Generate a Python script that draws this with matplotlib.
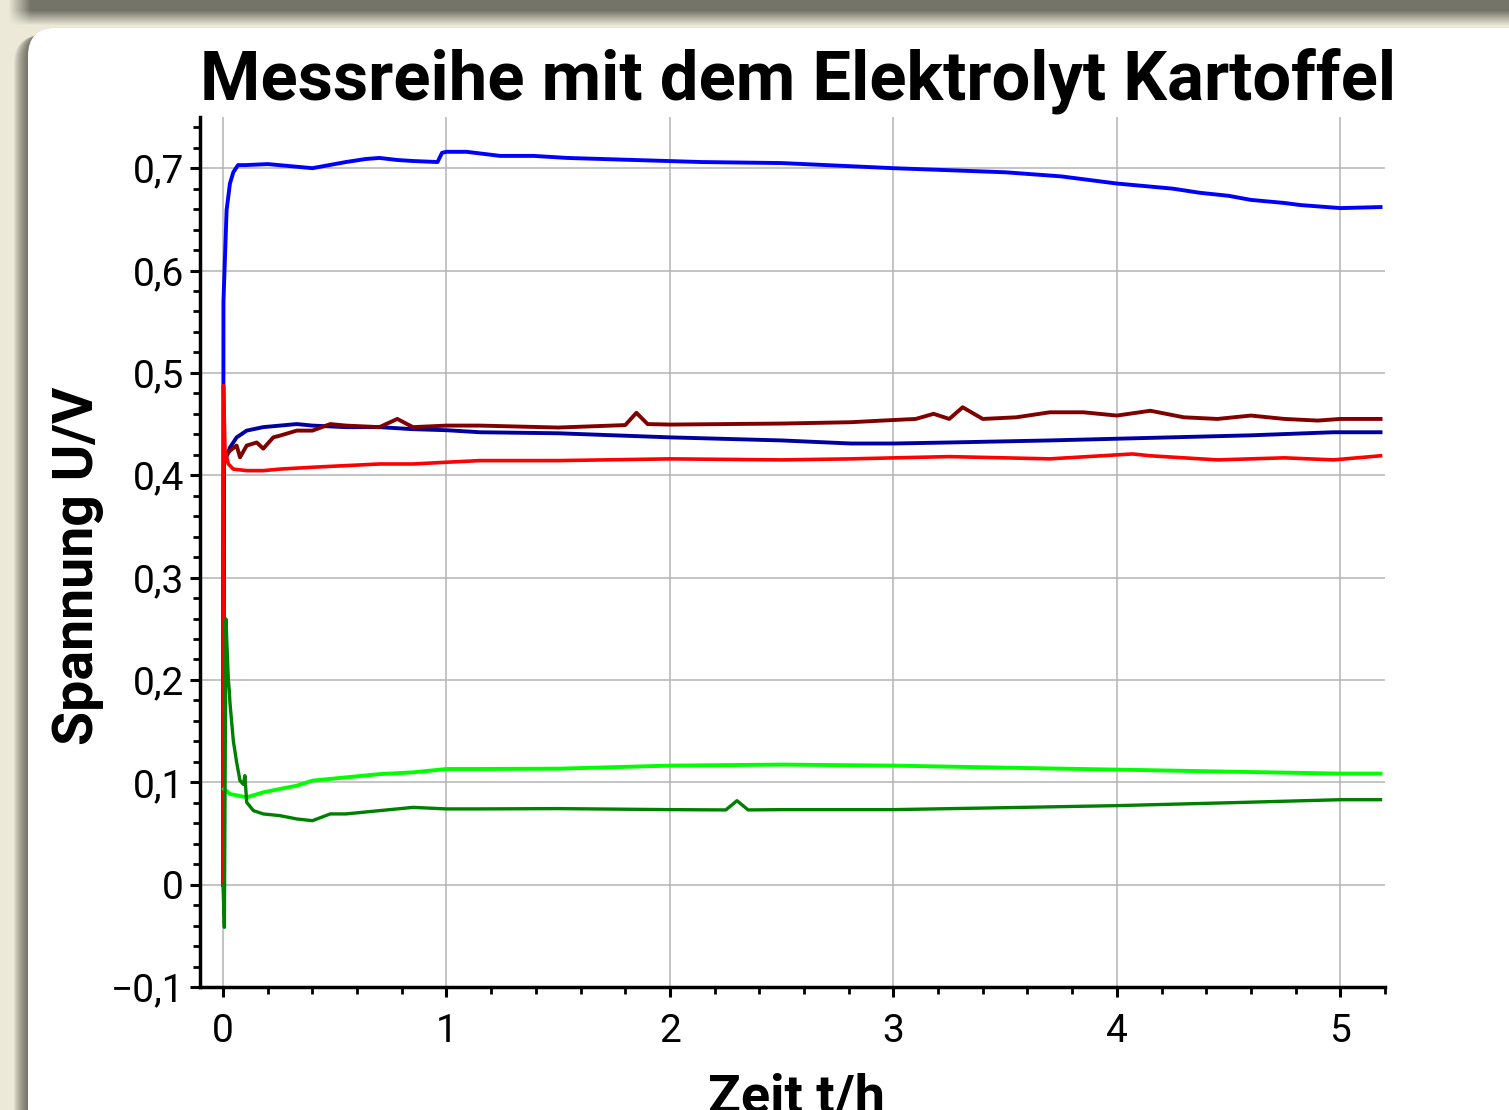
import numpy as np
import matplotlib.pyplot as plt
from matplotlib.patches import FancyBboxPatch
from matplotlib.ticker import MultipleLocator, FuncFormatter

t_blau = [0, 0.002, 0.016, 0.031, 0.046, 0.067, 0.1, 0.2, 0.3, 0.4, 0.5, 0.55, 0.64, 0.70,
          0.78, 0.85, 0.96, 0.98, 1.0, 1.09, 1.24, 1.39, 1.54, 1.69, 1.84, 1.99, 2.14, 2.5,
          3.0, 3.5, 3.75, 4.0, 4.25, 4.37, 4.5, 4.6, 4.75, 4.82, 5.0, 5.18]
u_blau = [0, 0.57, 0.659, 0.685, 0.696, 0.703, 0.703, 0.704, 0.702, 0.700, 0.704, 0.706, 0.709, 0.710,
          0.708, 0.707, 0.706, 0.715, 0.716, 0.716, 0.712, 0.712, 0.710, 0.709, 0.708, 0.707, 0.706, 0.705,
          0.700, 0.696, 0.692, 0.685, 0.680, 0.676, 0.673, 0.669, 0.666, 0.664, 0.661, 0.662]

t_navy = [0, 0.004, 0.009, 0.031, 0.061, 0.106, 0.18, 0.255, 0.33, 0.40, 0.55, 0.70, 0.85,
          1.0, 1.15, 1.5, 2.0, 2.5, 2.81, 3.0, 3.25, 3.70, 4.15, 4.6, 4.97, 5.18]
u_navy = [0, 0.41, 0.414, 0.427, 0.437, 0.4436, 0.447, 0.4485, 0.450, 0.4485, 0.447, 0.447, 0.445,
          0.444, 0.442, 0.441, 0.437, 0.434, 0.431, 0.431, 0.432, 0.434, 0.4365, 0.439, 0.442, 0.442]

t_dunkelrot = [0, 0.004, 0.008, 0.031, 0.061, 0.076, 0.106, 0.151, 0.18, 0.225, 0.255, 0.33, 0.40,
               0.48, 0.55, 0.70, 0.78, 0.85, 1.0, 1.15, 1.5, 1.8, 1.85, 1.9, 2.0, 2.5, 2.81, 2.95,
               3.1, 3.18, 3.25, 3.31, 3.40, 3.55, 3.70, 3.85, 4.0, 4.15, 4.30, 4.45, 4.6, 4.75,
               4.9, 5.0, 5.18]
u_dunkelrot = [0, 0.415, 0.4175, 0.424, 0.429, 0.4175, 0.429, 0.432, 0.426, 0.437, 0.4387, 0.4436, 0.4436,
               0.450, 0.4485, 0.447, 0.455, 0.447, 0.4485, 0.4485, 0.4466, 0.449, 0.461, 0.450, 0.4495, 0.4505, 0.4518, 0.4534,
               0.455, 0.460, 0.455, 0.4664, 0.455, 0.4566, 0.4615, 0.4615, 0.4583, 0.463, 0.4566, 0.455, 0.4583, 0.455,
               0.4534, 0.455, 0.455]

t_rot = [0, 0.002, 0.009, 0.024, 0.046, 0.106, 0.18, 0.255, 0.40, 0.55, 0.70, 0.85, 1.0, 1.15,
         1.5, 2.0, 2.5, 2.81, 3.25, 3.70, 4.07, 4.15, 4.45, 4.6, 4.75, 4.97, 5.18]
u_rot = [0, 0.4876, 0.424, 0.411, 0.406, 0.4045, 0.4045, 0.406, 0.4078, 0.4094, 0.411, 0.411, 0.4127, 0.4143,
         0.4143, 0.416, 0.415, 0.416, 0.4182, 0.416, 0.4208, 0.419, 0.415, 0.416, 0.417, 0.415, 0.419]

t_hellgruen = [0.005, 0.031, 0.106, 0.18, 0.255, 0.33, 0.40, 0.55, 0.70, 0.85, 1.0, 1.15, 1.5,
               2.0, 2.5, 3.0, 3.5, 4.0, 4.5, 5.0, 5.18]
u_hellgruen = [0.0935, 0.0886, 0.0853, 0.0902, 0.0935, 0.0967, 0.1016, 0.1048, 0.108, 0.1097, 0.113, 0.113, 0.1133,
               0.1163, 0.1173, 0.1163, 0.1143, 0.1124, 0.1104, 0.1085, 0.1085]

t_gruen = [0, 0.006, 0.013, 0.024, 0.028, 0.031, 0.046, 0.061, 0.076, 0.091, 0.098, 0.106, 0.136,
           0.18, 0.255, 0.33, 0.40, 0.48, 0.55, 0.70, 0.85, 1.0, 1.15, 1.5, 2.0, 2.25, 2.3, 2.35,
           2.5, 3.0, 3.5, 4.0, 4.5, 5.0, 5.18]
u_gruen = [0, -0.0417, 0.2596, 0.1993, 0.19, 0.178, 0.1407, 0.1195, 0.1016, 0.098, 0.1065, 0.0804, 0.0723,
           0.0691, 0.0674, 0.0642, 0.0625, 0.0691, 0.0691, 0.0723, 0.0755, 0.074, 0.074, 0.0743, 0.0733, 0.073, 0.082, 0.073,
           0.0733, 0.0733, 0.0752, 0.0772, 0.080, 0.083, 0.083]

W, H = 1509, 1110
fig = plt.figure(figsize=(W / 100, H / 100), dpi=100, facecolor='#ece9d8')

# Hintergrund: Fensterrahmen mit Schatten (in Pixelkoordinaten)
bg = fig.add_axes([0, 0, 1, 1])
bg.set_xlim(0, W)
bg.set_ylim(H, 0)
bg.axis('off')

band = np.zeros((30, W, 4))
band[..., :3] = np.array([0x74, 0x74, 0x68]) / 255
ay = np.clip((25 - np.arange(30)) / 15, 0, 1)
ax_ = np.clip((np.arange(W) - 8) / 22, 0, 1)
band[..., 3] = ay[:, None] * ax_[None, :]
bg.imshow(band, extent=[0, W, 30, 0], aspect='auto', interpolation='bilinear')

for k in range(1, 15):
    bg.add_patch(FancyBboxPatch((28 - k, 30 + k * 0.4), 1600, 1200,
                                boxstyle='round,pad=0,rounding_size=28',
                                fc='#3c3c30', ec='none', alpha=0.07))
bg.add_patch(FancyBboxPatch((28, 28), 1600, 1200, boxstyle='round,pad=0,rounding_size=28',
                            fc='white', ec='none'))

ax = fig.add_axes([200 / W, 123 / H, 1185 / W, 870 / H])
ax.set_facecolor('white')

ax.plot(t_blau, u_blau, color='#0000ff', lw=2.8)
ax.plot(t_navy, u_navy, color='#0000a0', lw=2.8)
ax.plot(t_dunkelrot, u_dunkelrot, color='#800000', lw=2.8)
ax.plot(t_rot, u_rot, color='#ff0000', lw=2.6)
ax.plot(t_hellgruen, u_hellgruen, color='#00ff00', lw=2.8)
ax.plot(t_gruen, u_gruen, color='#008000', lw=2.4)

ax.set_xlim(-0.103, 5.2)
ax.set_ylim(-0.1, 0.75)

ax.xaxis.set_major_locator(MultipleLocator(1))
ax.xaxis.set_minor_locator(MultipleLocator(0.2))
ax.yaxis.set_major_locator(MultipleLocator(0.1))
ax.yaxis.set_minor_locator(MultipleLocator(0.02))


def y_fmt(v, pos):
    if abs(v) < 1e-9:
        return '0'
    return f'{v:.1f}'.replace('.', ',').replace('-', '\u2212')


ax.yaxis.set_major_formatter(FuncFormatter(y_fmt))
ax.xaxis.set_major_formatter(FuncFormatter(lambda v, pos: f'{v:.0f}'))

for s in ['top', 'right']:
    ax.spines[s].set_visible(False)
for s in ['left', 'bottom']:
    ax.spines[s].set_linewidth(2.5)

ax.tick_params(which='major', direction='out', length=7.5, width=2.2, labelsize=28)
ax.tick_params(which='minor', direction='out', length=5, width=2)
ax.tick_params(axis='y', which='major', pad=4)
ax.tick_params(axis='x', which='major', pad=11)
for lab in ax.get_xticklabels() + ax.get_yticklabels():
    lab.set_family('Roboto')

ax.grid(True, which='major', color='#b4b4b4', lw=1.1)
ax.set_axisbelow(True)

fig.text(798 / W, 1 - 99 / H, 'Messreihe mit dem Elektrolyt Kartoffel', ha='center', va='baseline',
         fontsize=49.5, fontweight='bold', family='Roboto')
fig.text(93 / W, 1 - 566 / H, 'Spannung U/V', rotation=90, rotation_mode='anchor',
         ha='center', va='baseline', fontsize=40, fontweight='bold', family='Roboto')
fig.text(797 / W, 1 - 1112 / H, 'Zeit t/h', ha='center', va='baseline',
         fontsize=39, fontweight='bold', family='Roboto')

fig.savefig('out.png', dpi=100, facecolor=fig.get_facecolor())
